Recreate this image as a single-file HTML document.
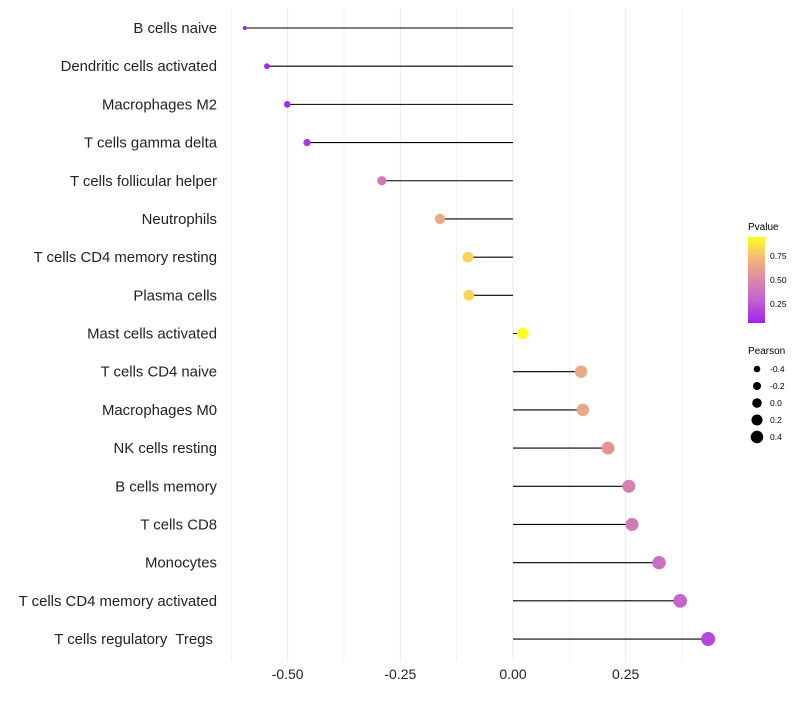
<!DOCTYPE html>
<html><head><meta charset="utf-8"><style>
body{margin:0;background:#fff;font-family:"Liberation Sans",sans-serif}
svg text{font-family:"Liberation Sans",sans-serif;white-space:pre}
</style></head><body>
<svg id="chart" width="800" height="700">
<defs><linearGradient id="pg" x1="0" y1="1" x2="0" y2="0">
<stop offset="0" stop-color="#a020f0"/><stop offset="0.25" stop-color="#c060d0"/><stop offset="0.5" stop-color="#da88a8"/><stop offset="0.75" stop-color="#f2b878"/><stop offset="1" stop-color="#ffff20"/></linearGradient></defs>
<g id="grid"></g>
<g id="marks"></g>
<g id="labels"></g>
<g id="xt"></g>
<g>
<text x="748" y="230" font-size="10">Pvalue</text>
<rect x="748" y="237" width="17" height="86" fill="url(#pg)"/>
<text x="770" y="259" font-size="8.5">0.75</text>
<text x="770" y="283" font-size="8.5">0.50</text>
<text x="770" y="307" font-size="8.5">0.25</text>
</g>
<g id="sizeleg">
<text x="748" y="354" font-size="10">Pearson</text>
</g>
</svg>
<script>
const categories=["B cells naive","Dendritic cells activated","Macrophages M2","T cells gamma delta","T cells follicular helper","Neutrophils","T cells CD4 memory resting","Plasma cells","Mast cells activated","T cells CD4 naive","Macrophages M0","NK cells resting","B cells memory","T cells CD8","Monocytes","T cells CD4 memory activated","T cells regulatory  Tregs "];
const pearson=[-0.595,-0.546,-0.501,-0.457,-0.291,-0.162,-0.100,-0.098,0.022,0.151,0.155,0.211,0.257,0.264,0.324,0.371,0.433];
const pvalues=[0.05,0.08,0.08,0.12,0.40,0.65,0.80,0.80,0.97,0.65,0.63,0.55,0.45,0.42,0.35,0.30,0.18];
const xTicks=[-0.5,-0.25,0,0.25];
const xTickLabels=["-0.50","-0.25","0.00","0.25"];
const sizeLegendValues=[-0.4,-0.2,0.0,0.2,0.4];
const sizeLegendLabels=["-0.4","-0.2","0.0","0.2","0.4"];
const NS="http://www.w3.org/2000/svg";
const x=v=>513+v*450.7;
const y=i=>28+i*38.19;
const r=v=>1.7+5.3*Math.sqrt(Math.max(0,(v+0.6)/1.03));
const stops=[[0,[160,32,240]],[0.25,[192,96,208]],[0.5,[218,136,168]],[0.75,[242,184,120]],[1,[255,255,32]]];
function col(p){const t=Math.min(1,Math.max(0,(p-0.04)/0.9));for(let k=1;k<stops.length;k++){if(t<=stops[k][0]){const a=stops[k-1],b=stops[k],f=(t-a[0])/(b[0]-a[0]);return "rgb("+a[1].map((c,j)=>Math.round(c+(b[1][j]-c)*f)).join(",")+")";}}return "rgb(255,255,32)";}
function mk(tag,attrs,parent,txt){const e=document.createElementNS(NS,tag);for(const k in attrs)e.setAttribute(k,attrs[k]);if(txt!==undefined)e.textContent=txt;document.getElementById(parent).appendChild(e);return e;}
[-0.625,-0.5,-0.375,-0.25,-0.125,0,0.125,0.25,0.375].forEach(v=>{
 const l=mk("line",{x1:x(v),x2:x(v),y1:8,y2:662,stroke:"#ebebeb","stroke-width":v*8%2===0?1:0.6},"grid");
 
 
});
categories.forEach((c,i)=>{
 const ln=mk("line",{x1:x(0),x2:x(pearson[i]),y1:y(i),y2:y(i),stroke:"#000","stroke-width":1.1},"marks");
 
 
 const ci=mk("circle",{cx:x(pearson[i]),cy:y(i),r:r(pearson[i]),fill:col(pvalues[i])},"marks");
 
 
 const t=mk("text",{x:217,y:y(i)+5,"text-anchor":"end","font-size":14.9,fill:"#222"},"labels",c);
 
 
});
xTicks.forEach((v,i)=>{
 const t=mk("text",{x:x(v),y:679,"text-anchor":"middle","font-size":14,fill:"#222"},"xt",xTickLabels[i]);
 
 
});
sizeLegendValues.forEach((v,i)=>{
 const cy=369+i*17;
 const c=mk("circle",{cx:757,cy:cy,r:3.3+(v+0.4)*3.7,fill:"#000"},"sizeleg");
 
 
 const t=mk("text",{x:770,y:cy+3,"font-size":8.5},"sizeleg",sizeLegendLabels[i]);
 
 
});
</script>
</body></html>
